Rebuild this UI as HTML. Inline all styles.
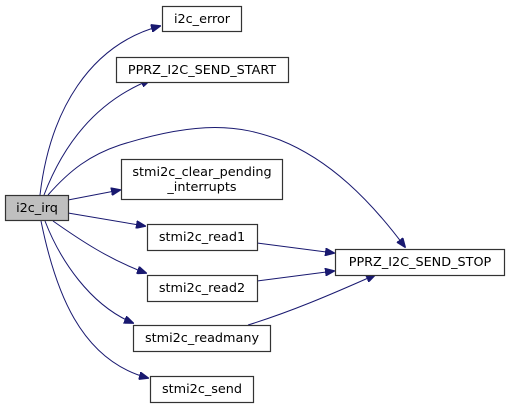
<!DOCTYPE html>
<html><head><meta charset="utf-8"><style>
html,body{margin:0;padding:0;background:#fff;width:509px;height:408px;overflow:hidden}
text{font-family:"DejaVu Sans","Liberation Sans",sans-serif;font-size:12.8px;fill:#000}
</style></head><body>
<svg width="509" height="408" viewBox="0 0 509 408" xmlns="http://www.w3.org/2000/svg">
<defs><marker id="a" markerWidth="10" markerHeight="8" refX="9" refY="4" orient="auto" markerUnits="userSpaceOnUse"><path d="M0,0 L10,4 L0,8 z" fill="#191970" stroke="#191970"/></marker></defs>
<g fill="none" stroke="#191970" stroke-width="1" marker-end="url(#a)">
<path d="M40,195 C50,110 90,45 160,26"/>
<path d="M44,195 C65,140 100,100 150,80"/>
<path d="M48,195 C70,170 90,155 120,145 C200,120 240,125 280,140 C330,160 370,200 405,247"/>
<path d="M68,200 L120,190"/>
<path d="M68,213 L145,226"/>
<path d="M53,221 C80,240 110,260 146,273"/>
<path d="M45,221 C60,260 90,305 133,323"/>
<path d="M41,221 C55,290 80,360 148,378"/>
<path d="M257,243 L334,253"/>
<path d="M257,281 L334,271"/>
<path d="M248,325 C290,312 330,295 375,275"/>
</g>
<g stroke="#333" stroke-width="1.2" fill="#fff">
<rect x="5.5" y="195.5" width="63" height="25" fill="#bfbfbf"/>
<rect x="162.5" y="6.5" width="79" height="25"/>
<rect x="116.5" y="57.5" width="172" height="25"/>
<rect x="121.5" y="159.5" width="161" height="40"/>
<rect x="147.5" y="224.5" width="110" height="26"/>
<rect x="147.5" y="275.5" width="110" height="26"/>
<rect x="133.5" y="325.5" width="137" height="26"/>
<rect x="150.5" y="376.5" width="103" height="26"/>
<rect x="335.5" y="249.5" width="169" height="26"/>
</g>
<g text-anchor="middle">
<text x="37" y="212">i2c_irq</text>
<text x="202" y="23">i2c_error</text>
<text x="202" y="74">PPRZ_I2C_SEND_START</text>
<text x="202" y="176">stmi2c_clear_pending</text>
<text x="202" y="191">_interrupts</text>
<text x="202" y="241">stmi2c_read1</text>
<text x="202" y="292">stmi2c_read2</text>
<text x="202" y="342">stmi2c_readmany</text>
<text x="202" y="393">stmi2c_send</text>
<text x="420" y="266">PPRZ_I2C_SEND_STOP</text>
</g>
</svg>
</body></html>
